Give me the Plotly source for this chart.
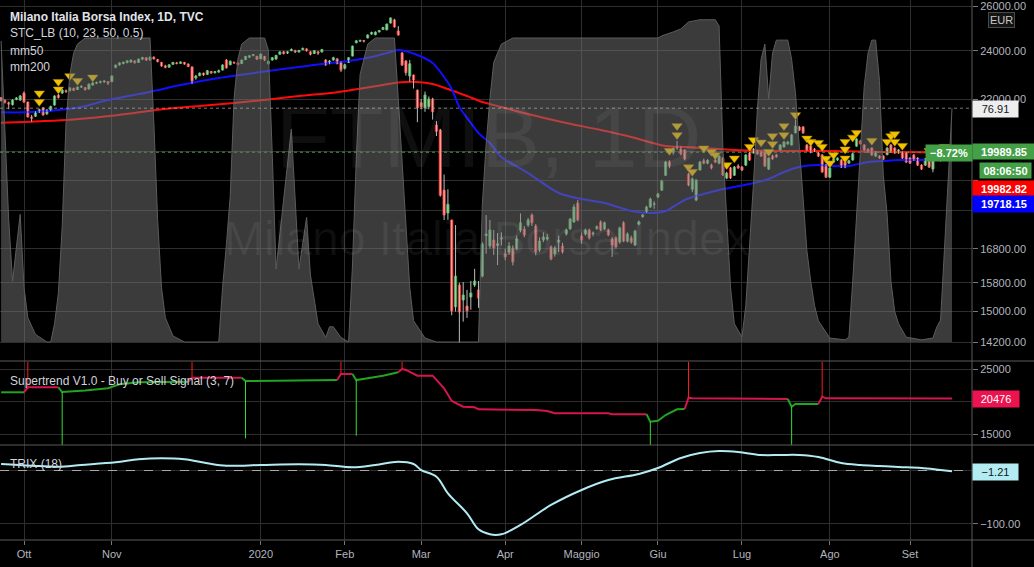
import math
import pandas as pd
import plotly.graph_objects as go

# ---------------- calendar (trading days) ----------------
HOLIDAYS = ["2019-12-24", "2019-12-25", "2019-12-26", "2019-12-31", "2020-01-01",
            "2020-04-10", "2020-04-13", "2020-05-01"]
dates = [d for d in pd.bdate_range("2019-09-23", "2020-09-16")
         if d.strftime("%Y-%m-%d") not in HOLIDAYS]
MONTH_LABELS = {10: "Ott", 11: "Nov", 1: "2020", 2: "Feb", 3: "Mar", 4: "Apr",
                5: "Maggio", 6: "Giu", 7: "Lug", 8: "Ago", 9: "Set"}

# ---------------- price data (FTSE MIB, daily) ----------------
opens = [
    22050, 21940, 21850, 21780, 21980, 21960, 22240, 21880, 21300, 21330,
    21500, 21650, 21420, 21560, 21760, 22150, 22240, 22330, 22340, 22420,
    22380, 22480, 22450, 22400, 22560, 22640, 22680, 22700, 22700, 22700,
    23300, 23400, 23450, 23500, 23520, 23560, 23500, 23640, 23700, 23600,
    23720, 23620, 23500, 23350, 23300, 23420, 23480, 23460, 23500, 23430,
    23310, 22850, 22950, 23050, 23000, 23120, 23070, 23100, 23180, 23600,
    23400, 23500, 23480, 23450, 23620, 23720, 23800, 23760, 23650, 23750,
    23450, 23600, 23650, 23850, 23950, 23900, 24000, 24000, 23950, 24050,
    24080, 23950, 23880, 23950, 23950, 23600, 23450, 23600, 23650, 23500,
    23250, 23500, 23770, 24350, 24420, 24440, 24560, 24730, 24700, 24830,
    24940, 24920, 25230, 25370, 24870, 23900, 23560, 22930, 22970, 22350,
    21850, 21650, 21700, 22000, 20990, 20805, 18670, 17915, 17690, 15130,
    15735, 15315, 15150, 15400, 15735, 15594, 15990, 17200, 16880, 17065,
    16900, 17100, 16640, 16700, 16820, 16790, 17370, 17400, 17530, 17850,
    17500, 16760, 17065, 17100, 16850, 16640, 17000, 16880, 17250, 17410,
    17630, 18240, 17190, 17250, 17375, 17250, 17420, 17630, 17410, 17375,
    17095, 17130, 17000, 17600, 17030, 17130, 16910, 17560, 17800, 17950,
    18110, 18200, 18440, 18670, 19180, 19640, 20000, 20140, 20100, 20070,
    19215, 18700, 18340, 19360, 19680, 19600, 19530, 19710, 19600, 19780,
    19080, 19430, 19180, 19500, 19460, 19530, 19960, 19960, 20030, 19990,
    19990, 19390, 19850, 19890, 20070, 20180, 20290, 20250, 20700, 20920,
    20920, 20250, 20210, 20100, 19960, 19890, 19530, 19110, 19640, 19710,
    19710, 19640, 19600, 19710, 20210, 20400, 20250, 20100, 20140, 19850,
    19850, 19850, 19900, 20250, 20140, 19960, 19990, 19960, 19780, 19890,
    19780, 19530, 19530, 19710, 19390, 19750, 19780, 19720, 19880, 19950,
]
highs = [
    22080, 21990, 21900, 21990, 22080, 22160, 22300, 21900, 21380, 21520,
    21620, 21680, 21600, 21740, 22150, 22200, 22400, 22380, 22480, 22460,
    22500, 22560, 22480, 22620, 22680, 22700, 22740, 22760, 22720, 22960,
    23400, 23500, 23540, 23600, 23620, 23600, 23660, 23740, 23720, 23760,
    23760, 23650, 23520, 23400, 23420, 23520, 23520, 23540, 23520, 23460,
    23330, 22980, 23080, 23070, 23180, 23140, 23140, 23200, 23420, 23640,
    23580, 23540, 23500, 23620, 23780, 23800, 23860, 23780, 23880, 23780,
    23580, 23720, 23820, 23980, 23990, 23980, 24100, 24040, 24040, 24140,
    24100, 23980, 24020, 23990, 24080, 23640, 23600, 23740, 23680, 23540,
    23440, 23720, 24220, 24460, 24480, 24470, 24720, 24840, 24850, 24920,
    25060, 25200, 25480, 25420, 25090, 23950, 23600, 23600, 22990, 22380,
    22000, 22300, 22100, 22050, 21140, 20850, 19200, 18700, 17700, 17530,
    15800, 15820, 15600, 15850, 16200, 15850, 17000, 17850, 17690, 17375,
    17280, 17300, 16800, 17000, 16900, 17200, 17900, 17500, 17760, 17900,
    17560, 17150, 17300, 17250, 16900, 16880, 17200, 16980, 17420, 17760,
    18200, 18340, 17300, 17420, 17420, 17330, 17520, 17680, 17640, 17420,
    17150, 17180, 17480, 17650, 17300, 17200, 17380, 17680, 17880, 18150,
    18420, 18300, 18580, 19020, 19680, 19700, 20160, 20400, 20200, 20100,
    19260, 19100, 19040, 19680, 19760, 19740, 19580, 19760, 19880, 19820,
    19300, 19460, 19500, 19560, 19500, 19920, 20000, 20140, 20080, 20040,
    20020, 19800, 19900, 19930, 20280, 20400, 20400, 20660, 21200, 20960,
    20950, 20290, 20240, 20140, 19990, 19920, 19570, 19460, 19780, 19800,
    19740, 19680, 19720, 19960, 20500, 20440, 20280, 20130, 20170, 20030,
    19880, 19880, 20170, 20290, 20170, 20100, 20020, 19990, 19810, 19920,
    19810, 19560, 19780, 19740, 19780, 19850, 19820, 19920, 19990, 20020,
]
lows = [
    21900, 21820, 21600, 21740, 21950, 21930, 21850, 21280, 21120, 21300,
    21450, 21350, 21380, 21520, 21740, 22020, 22200, 22240, 22300, 22320,
    22360, 22440, 22330, 22380, 22540, 22600, 22620, 22640, 22560, 22680,
    23250, 23360, 23420, 23460, 23480, 23440, 23480, 23600, 23560, 23580,
    23620, 23500, 23320, 23250, 23280, 23400, 23420, 23440, 23400, 23300,
    22600, 22780, 22920, 22940, 22980, 23020, 23030, 23060, 23160, 23240,
    23380, 23440, 23380, 23430, 23600, 23700, 23760, 23600, 23640, 23560,
    23400, 23580, 23600, 23830, 23840, 23860, 23980, 23900, 23920, 24020,
    23960, 23800, 23860, 23820, 23920, 23360, 23420, 23580, 23420, 23100,
    23200, 23480, 23760, 24320, 24380, 24360, 24540, 24700, 24680, 24800,
    24920, 24900, 25200, 25020, 24660, 23350, 22950, 22700, 22420, 21100,
    21600, 21500, 21600, 21200, 20580, 18450, 17690, 17700, 14900, 15000,
    14180, 14730, 14830, 15050, 15680, 15100, 15950, 16650, 16800, 16610,
    16310, 16900, 16450, 16620, 16300, 16750, 17300, 17150, 17470, 17500,
    16600, 16700, 17000, 17050, 16450, 16560, 16700, 16650, 17200, 17380,
    17600, 17650, 16950, 17200, 17080, 17180, 17380, 17340, 17380, 17180,
    16550, 16800, 16950, 17000, 16990, 16950, 16880, 17520, 17760, 17920,
    18080, 18050, 18400, 18640, 19150, 19420, 19900, 20080, 19880, 19700,
    18800, 18600, 18300, 19340, 19560, 19560, 19380, 19600, 19560, 19150,
    19040, 19050, 19150, 19400, 19320, 19500, 19680, 19940, 19900, 19820,
    19460, 19360, 19720, 19790, 20050, 20160, 20260, 20230, 20680, 20770,
    20660, 20040, 19950, 20000, 19820, 19260, 19080, 19080, 19620, 19680,
    19430, 19420, 19580, 19690, 20190, 20260, 20040, 19970, 19860, 19820,
    19750, 19710, 19880, 19970, 19930, 19940, 19750, 19600, 19570, 19680,
    19500, 19360, 19500, 19430, 19280, 19680, 19650, 19700, 19820, 19900,
]
closes = [
    21940, 21870, 21800, 21960, 22040, 22120, 21880, 21300, 21250, 21480,
    21580, 21380, 21570, 21700, 22120, 22060, 22360, 22300, 22440, 22350,
    22480, 22500, 22380, 22600, 22640, 22660, 22700, 22720, 22640, 22930,
    23390, 23480, 23500, 23560, 23600, 23500, 23640, 23700, 23600, 23720,
    23650, 23540, 23350, 23300, 23400, 23500, 23450, 23520, 23430, 23330,
    22720, 22930, 23050, 22980, 23150, 23060, 23110, 23150, 23390, 23270,
    23550, 23480, 23420, 23600, 23750, 23780, 23830, 23640, 23850, 23600,
    23550, 23700, 23800, 23950, 23880, 23950, 24050, 23950, 24010, 24100,
    24000, 23850, 24000, 23900, 24050, 23390, 23560, 23700, 23450, 23180,
    23400, 23700, 24200, 24430, 24450, 24420, 24690, 24800, 24820, 24880,
    25020, 25180, 25460, 25050, 24690, 23390, 23070, 23440, 22770, 21660,
    21700, 22160, 22000, 21500, 20760, 18500, 17850, 18200, 15020, 15990,
    14990, 15454, 15020, 15510, 15850, 15370, 16940, 17250, 17375, 16820,
    16950, 17120, 16550, 16880, 16400, 17100, 17600, 17220, 17690, 17600,
    16700, 17030, 17160, 17140, 16490, 16820, 17060, 16700, 17375, 17720,
    18110, 17690, 17065, 17375, 17130, 17280, 17480, 17375, 17600, 17220,
    16910, 16850, 17440, 17030, 17250, 17000, 17345, 17630, 17850, 18110,
    18370, 18210, 18540, 18980, 19640, 19500, 20110, 20180, 19930, 19750,
    18840, 19050, 19010, 19640, 19600, 19700, 19430, 19640, 19850, 19184,
    19250, 19080, 19460, 19430, 19360, 19890, 19710, 20100, 19930, 19850,
    19500, 19780, 19750, 19820, 20250, 20360, 20360, 20620, 20950, 20800,
    20700, 20070, 19990, 20030, 19850, 19290, 19110, 19430, 19750, 19780,
    19460, 19460, 19680, 19930, 20470, 20290, 20070, 20000, 19890, 20000,
    19780, 19740, 20140, 20000, 19960, 20070, 19780, 19640, 19600, 19710,
    19530, 19390, 19750, 19460, 19750, 19780, 19700, 19880, 19940, 19989.85,
]

# moving averages (read at sample bars)
mm50_idx = [0, 6, 13, 21, 28, 39, 47, 57, 68, 78, 86, 91, 97, 102, 104, 109, 113, 116, 118, 120,
            123, 125, 128, 131, 138, 146, 152, 158, 165, 170, 174, 179, 183, 188, 192, 196, 201,
            205, 209, 214, 218, 222, 227, 231, 235, 240, 249]
mm50_val = [21477, 21477, 21540, 21687, 21960, 22280, 22562, 22850, 23097, 23306, 23475, 23558,
            23730, 23944, 24031, 23815, 23474, 22890, 22400, 21687, 21070, 20693, 20323, 19816,
            19253, 18573, 18373, 18241, 17981, 17914, 17981, 18340, 18506, 18673, 18775, 18876,
            19046, 19288, 19464, 19533, 19498, 19498, 19639, 19674, 19710, 19710, 19718.15]
mm200_idx = [0, 8, 17, 26, 35, 43, 52, 61, 70, 78, 87, 91, 100, 104, 109, 113, 117, 122, 126, 131,
             139, 148, 157, 165, 174, 179, 183, 192, 205, 218, 231, 249]
mm200_val = [21080, 21120, 21183, 21300, 21455, 21610, 21727, 21845, 21980, 22119, 22251, 22340,
             22562, 22664, 22685, 22603, 22400, 22119, 21882, 21687, 21375, 21070, 20805, 20544,
             20213, 20177, 20141, 20069, 20033, 20033, 19997, 19982.82]

# STC overlay (0-100 scale)
stc_idx = [0, 1, 2, 3, 4, 5, 6, 7, 9, 12, 13, 14, 15, 16, 17, 18, 19, 20, 22, 39,
           40, 41, 42, 43, 45, 48, 57, 58, 59, 60, 61, 62, 63, 65, 69, 70, 71, 72, 76, 78,
           80, 81, 83, 85, 86, 87, 89, 91, 92, 93, 94, 96, 98, 103, 104, 105, 106, 107, 108, 111,
           114, 125, 126, 127, 128, 129, 131, 134, 172, 173, 176, 178, 180, 183, 187, 188, 189, 190, 191, 192,
           194, 195, 196, 197, 198, 199, 200, 201, 202, 203, 206, 207, 208, 209, 210, 211, 212, 213, 214, 217,
           221, 222, 223, 224, 225, 226, 227, 228, 229, 230, 231, 232, 233, 234, 235, 237, 241, 244, 245, 246,
           247, 248, 249]
stc_val = [99, 70, 40, 20, 30, 42, 18, 8, 2.5, 0, 0, 6, 16, 38, 72, 88, 95, 98, 100, 100,
           72, 40, 18, 8, 2, 0, 0, 18, 32, 48, 80, 93, 98, 100, 100, 96, 62, 24, 70, 24,
           41, 22, 6, 1.5, 5, 5, 1.5, 0, 25, 60, 88, 98, 100, 100, 80, 58, 36, 18, 7, 1.3,
           0, 0, 45, 65, 80, 92, 98, 100, 100, 100.7, 102, 103, 105.3, 106, 106, 104, 64, 42, 18, 6,
           1.6, 12, 32, 52, 76, 93, 98, 80, 95, 99.3, 99.3, 93, 82, 64, 45, 30, 20, 12, 7, 1.3,
           0.7, 1.6, 20, 42, 64, 84, 95, 99.3, 99.3, 86, 55, 42, 20, 10, 6, 1.6, 0.7, 1.3, 4.9, 7.2,
           30, 53, 76.91]

# signal triangles
tri_idx = [10, 10, 15, 15, 18, 20, 24, 175, 177, 177, 180, 181, 184, 186, 187, 190, 192, 196, 197, 199,
           201, 202, 202, 205, 205, 208, 211, 212, 214, 215, 216, 217, 218, 221, 221, 221, 223, 224, 228, 232,
           233, 234, 234, 236, 243, 247]
tri_val = [22228, 21890, 22696, 22388, 22931, 22738, 22876, 20040, 20960, 20618, 19460, 19300, 20130,
           20008, 19888, 19533, 19770, 20190, 20433, 20347, 20008, 20580, 20286, 20955, 20618, 21375,
           20495, 20373, 20336, 20190, 19760, 19600, 19888, 20373, 20095, 19770, 20530, 20700, 20410,
           20373, 20580, 20655, 20373, 20226, 20040, 20190]

# Supertrend (knots, side 1 = buy/green, -1 = sell/red)
st_idx = [0, 6, 7, 15, 16, 22, 28, 31, 36, 49, 50, 63, 64, 88, 89, 92, 93, 96, 100, 104,
          105, 106, 109, 113, 116, 118, 120, 121, 124, 125, 140, 143, 145, 159, 160, 169, 170, 172, 174, 177,
          179, 180, 181, 206, 207, 208, 214, 215, 216, 249]
st_val = [21415, 21415, 22180, 22180, 21460, 21700, 22030, 22640, 22950, 23050, 23660, 23660, 23150,
          23300, 24230, 24230, 23300, 23570, 23970, 24490, 25000, 24850, 23970, 23970, 22030, 20080,
          19460, 19200, 19100, 18800, 18690, 18540, 18180, 18180, 18030, 18030, 16890, 17050, 17920,
          18800, 18850, 20590, 20490, 20380, 19200, 19620, 19620, 20740, 20490, 20476]
st_side = [1, 1, -1, -1, 1, 1, 1, 1, 1, 1, -1, -1, 1, 1, -1, -1, 1, 1, 1, 1,
           -1, -1, -1, -1, -1, -1, -1, -1, -1, -1, -1, -1, -1, -1, -1, -1, 1, 1, 1, 1,
           1, -1, -1, -1, 1, 1, 1, -1, -1, -1]
sig_idx = [7, 16, 50, 64, 89, 93, 105, 170, 180, 207, 215]
sig_end = [26100, 13300, 26100, 14340, 26100, 14740, 26100, 13300, 26100, 13300, 26100]
sig_side = [-1, 1, -1, 1, -1, 1, -1, 1, -1, 1, -1]

# TRIX (18)
trix_idx = [0, 8, 15, 21, 30, 36, 42, 48, 54, 59, 68, 78, 85, 92, 98, 104, 108, 110, 114, 117,
            122, 125, 128, 131, 136, 144, 152, 159, 167, 172, 178, 183, 188, 193, 199, 204, 209, 214,
            220, 225, 230, 235, 241, 246, 249]
trix_val = [12.1, 9.0, 7.1, 10.3, 15.3, 20.9, 22.8, 20.9, 13.5, 9.0, 10.3, 11.6, 10.3, 6.0, 10.3,
            16.4, 12.1, 0.9, -11.6, -42.6, -80, -110, -119.3, -119.3, -101.9, -64.5, -36.4, -17.8,
            -6.5, 4.7, 23.4, 32.7, 36.4, 34.6, 29, 29, 29, 25.2, 14, 10.3, 8.4, 6.5, 4.7, 0.9, -1.21]

# axis ticks (labels hidden by the value tags are left blank)
price_ticks = [14200, 15000, 15800, 16800, 18000, 19000, 20000, 22000, 24000, 26000]
price_hidden = [18000, 19000, 20000]
st_ticks = [15000, 20000, 25000]
st_hidden = [20000]
trix_ticks = [-100, 0]
trix_labels = ["\u2212100.00", ""]

assert len(opens) == len(highs) == len(lows) == len(closes) == len(dates)

# ---------------- geometry helpers ----------------
W, H = 1034, 567
ML, MR, MT, MB = 0, 62, 0, 27
PW, PH = W - ML - MR, H - MT - MB          # 972 x 540
X_RANGE = [-0.285, 254.23]


def yp(px):
    return (PH - px) / PH


def xp(px):
    return px / PW


BG = "#000000"
GRID = "#2e2e2e"
TXT = "#d1d4dc"
AX = "#b2b5be"
FONT = "Liberation Sans, Arial, sans-serif"

bars = list(range(len(dates)))
tickvals, ticktext = [], []
for i, d in enumerate(dates):
    if i > 0 and d.month != dates[i - 1].month and d.month in MONTH_LABELS:
        tickvals.append(i)
        ticktext.append(MONTH_LABELS[d.month])

fig = go.Figure()

# STC grey area
fig.add_trace(go.Scatter(x=stc_idx, y=stc_val, xaxis="x", yaxis="y4", mode="lines",
                         fill="tozeroy", fillcolor="rgba(118,118,118,0.5)",
                         line=dict(color="#5c5c5c", width=1), hoverinfo="skip"))
fig.add_trace(go.Scatter(x=X_RANGE, y=[stc_val[-1], stc_val[-1]], xaxis="x", yaxis="y4", mode="lines",
                         line=dict(color="rgba(170,170,170,0.7)", width=1, dash="dot"), hoverinfo="skip"))

# moving averages
fig.add_trace(go.Scatter(x=mm200_idx, y=mm200_val, xaxis="x", yaxis="y", mode="lines",
                         line=dict(color="#ff0a0a", width=2, shape="spline", smoothing=0.8)))
fig.add_trace(go.Scatter(x=mm50_idx, y=mm50_val, xaxis="x", yaxis="y", mode="lines",
                         line=dict(color="#1010ff", width=2, shape="spline", smoothing=0.8)))

# current price dotted line
fig.add_trace(go.Scatter(x=X_RANGE, y=[closes[-1], closes[-1]], xaxis="x", yaxis="y", mode="lines",
                         line=dict(color="#43a047", width=1, dash="dot")))

# wicks
wx, wy = [], []
for i, h, l in zip(bars, highs, lows):
    wx += [i, i, None]
    wy += [l, h, None]
fig.add_trace(go.Scatter(x=wx, y=wy, xaxis="x", yaxis="y", mode="lines",
                         line=dict(color="#bdbdbd", width=1), hoverinfo="skip"))

# candle bodies
body_hi = [max(o, c) for o, c in zip(opens, closes)]
body_lo = [min(o, c) for o, c in zip(opens, closes)]
fig.add_trace(go.Candlestick(x=bars, open=opens, high=body_hi, low=body_lo, close=closes,
                             xaxis="x", yaxis="y", whiskerwidth=0,
                             increasing=dict(line=dict(color="#37b24d", width=1), fillcolor="#8fe08f"),
                             decreasing=dict(line=dict(color="#ff2b2b", width=1), fillcolor="#ffa080")))

# triangles
fig.add_trace(go.Scatter(x=tri_idx, y=tri_val, xaxis="x", yaxis="y", mode="markers",
                         marker=dict(symbol="triangle-down", size=9, color="#f2c200",
                                     line=dict(color="#b88f00", width=0.5))))

# Supertrend segments
segs = []
cur = dict(side=st_side[0], x=[st_idx[0]], y=[st_val[0]])
for i in range(1, len(st_idx)):
    if st_side[i] != cur["side"]:
        segs.append(cur)
        cur = dict(side=st_side[i], x=[st_idx[i - 1]], y=[st_val[i - 1]])
    cur["x"].append(st_idx[i])
    cur["y"].append(st_val[i])
segs.append(cur)
for s in segs:
    fig.add_trace(go.Scatter(x=s["x"], y=s["y"], xaxis="x2", yaxis="y2", mode="lines",
                             line=dict(color="#22a322" if s["side"] == 1 else "#d6154f", width=2)))
st_lookup = dict(zip(st_idx, st_val))
for i, e, sd in zip(sig_idx, sig_end, sig_side):
    fig.add_trace(go.Scatter(x=[i, i], y=[st_lookup[i], e], xaxis="x2", yaxis="y2", mode="lines",
                             line=dict(color="#33dd33" if sd == 1 else "#ff1a1a", width=1)))

# TRIX
fig.add_trace(go.Scatter(x=X_RANGE, y=[0, 0], xaxis="x3", yaxis="y3", mode="lines",
                         line=dict(color="rgba(210,210,210,0.75)", width=1, dash="dash")))
fig.add_trace(go.Scatter(x=trix_idx, y=trix_val, xaxis="x3", yaxis="y3", mode="lines",
                         line=dict(color="#b2ebf2", width=2, shape="spline", smoothing=1.0)))

# ---------------- axes ----------------
xcommon = dict(range=X_RANGE, tickvals=tickvals, ticktext=ticktext, showgrid=True, gridcolor=GRID,
               gridwidth=1, zeroline=False, showline=False, fixedrange=True)
ycommon = dict(side="right", showgrid=True, gridcolor=GRID, gridwidth=1, zeroline=False,
               showline=False, ticks="outside", ticklen=5, tickcolor="#777",
               tickfont=dict(family=FONT, size=11, color=AX), fixedrange=True)

layout = dict(
    width=W, height=H, margin=dict(l=ML, r=MR, t=MT, b=MB),
    paper_bgcolor=BG, plot_bgcolor=BG, showlegend=False, hovermode=False, boxgap=0.2,
    xaxis=dict(xcommon, anchor="y", showticklabels=False, ticks="", rangeslider=dict(visible=False)),
    xaxis2=dict(xcommon, anchor="y2", matches="x", showticklabels=False, ticks=""),
    xaxis3=dict(xcommon, anchor="y3", matches="x", showticklabels=True, ticks="outside", ticklen=4,
                tickcolor="#777", tickfont=dict(family=FONT, size=11, color=AX)),
    yaxis=dict(ycommon, type="log", domain=[yp(361), 1], anchor="x",
               range=[math.log10(13722), math.log10(26297)],
               tickvals=price_ticks,
               ticktext=["" if v in price_hidden else f"{v:.2f}" for v in price_ticks]),
    yaxis4=dict(overlaying="y", range=[-6.25, 112.5], visible=False, anchor="x", fixedrange=True),
    yaxis2=dict(ycommon, domain=[yp(445), yp(361)], anchor="x2", range=[13308, 26231],
                tickvals=st_ticks, ticktext=["" if v in st_hidden else str(v) for v in st_ticks]),
    yaxis3=dict(ycommon, domain=[0, yp(445)], anchor="x3", range=[-130, 47.7],
                tickvals=trix_ticks, ticktext=trix_labels),
)
fig.update_layout(**layout)

# ---------------- separators ----------------
shapes = []
for ypx in (361, 445, 540):
    shapes.append(dict(type="line", xref="paper", yref="paper", x0=0, x1=W / PW, y0=yp(ypx), y1=yp(ypx),
                       line=dict(color="#5a5a5a", width=1), layer="above"))
shapes.append(dict(type="line", xref="paper", yref="paper", x0=1, x1=1, y0=yp(0), y1=yp(H),
                   line=dict(color="#5a5a5a", width=1), layer="above"))
fig.update_layout(shapes=shapes)

# ---------------- annotations ----------------
ann = []


def text(t, xpx, ypx, size=12, color=TXT, bold=False, anchor="left"):
    ann.append(dict(text=f"<b>{t}</b>" if bold else t, xref="paper", yref="paper", x=xp(xpx), y=yp(ypx),
                    xanchor=anchor, yanchor="middle", showarrow=False,
                    font=dict(family=FONT, size=size, color=color)))


def tag(t, xpx, ypx, w, bg, fg, h=16):
    ann.append(dict(text=t, xref="paper", yref="paper", x=xp(xpx), y=yp(ypx), xanchor="left",
                    yanchor="middle", showarrow=False, bgcolor=bg, width=w, height=h, borderpad=0,
                    align="center", font=dict(family=FONT, size=11, color=fg)))


# watermark
text("FTMIB, 1D", 488, 137, size=88, color="rgba(255,255,255,0.06)", anchor="center")
text("Milano Italia Borsa Index", 487, 238, size=48, color="rgba(255,255,255,0.06)", anchor="center")

text("Milano Italia Borsa Index, 1D, TVC", 8, 16.5, size=12, color="#e0e3eb", bold=True)
text("STC_LB (10, 23, 50, 0.5)", 8, 33.5, size=12)
text("mm50", 8, 50.5, size=12)
text("mm200", 8, 67, size=12)
text("Supertrend V1.0 - Buy or Sell Signal (3, 7)", 8, 380.5, size=12)
text("TRIX (18)", 8, 463.5, size=12)

tag("76.91", 972, 109, 45, "#eeeeee", "#131722", h=16)
tag("<b>19989.85</b>", 972, 151, 62, "#43a047", "#ffffff", h=15)
tag("<b>08:06:50</b>", 979, 170.5, 51, "#43a047", "#ffffff", h=15)
tag("<b>19982.82</b>", 972, 188.5, 62, "#ff0000", "#ffffff", h=16)
tag("<b>19718.15</b>", 972, 204, 62, "#0000ff", "#ffffff", h=16)
tag("<b>\u22128.72%</b>", 925, 152.5, 46, "#43a047", "#ffffff", h=16)
tag("20476", 972, 399, 46, "#eb1450", "#ffffff", h=16)
tag("\u22121.21", 972, 471.5, 45, "#b2ebf2", "#131722", h=16)
ann.append(dict(text="EUR", xref="paper", yref="paper", x=xp(1001), y=yp(20), xanchor="center",
                yanchor="middle", showarrow=False, bgcolor="#141414", bordercolor="#4a4a4a", borderwidth=1,
                borderpad=1, font=dict(family=FONT, size=11, color="#c8c8c8")))
fig.update_layout(annotations=ann)

fig.write_html("out.html", config={"displayModeBar": False},
               post_script="document.body.style.margin='0px';")
